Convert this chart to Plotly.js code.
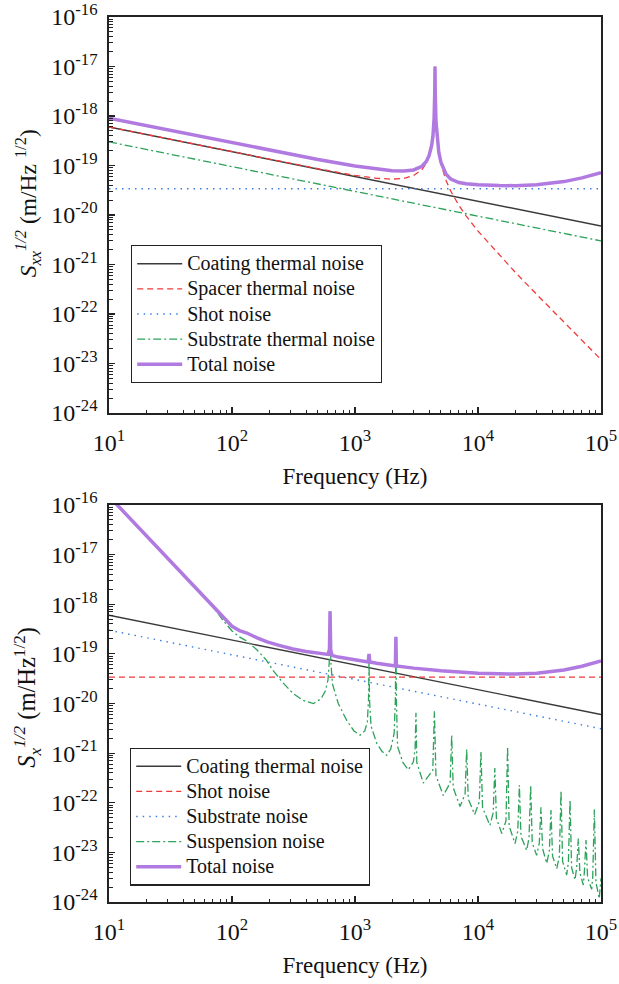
<!DOCTYPE html>
<html>
<head>
<meta charset="utf-8">
<script src="https://cdn.plot.ly/plotly-3.0.1.min.js"></script>
<style>
html,body{margin:0;padding:0;background:#fff;}
#chart{width:619px;height:984px;}
</style>
</head>
<body>
<div id="chart"></div>
<script>
// ---------- data ----------
const lineEnds = [10, 100000];

// Top panel
const coatingTop   = [6.0e-19, 6.0e-21];
const shotTop      = [3.4e-20, 3.4e-20];
const substrateTop = [3.0e-19, 3.0e-21];

const freqTop = [10, 20, 50, 100, 200, 500, 1000, 1500, 2000, 2500, 3000, 3500, 3800, 4000, 4200, 4300, 4400, 4450, 4470, 4490, 4550, 4650, 4800, 5000, 5500, 6000, 7000, 8000, 10000, 15000, 20000, 30000, 50000, 70000, 100000];
const spacerTop = [6.0e-19, 4.24e-19, 2.68e-19, 1.9e-19, 1.345e-19, 8.6e-20, 6.32e-20, 5.52e-20, 5.30e-20, 5.52e-20, 6.30e-20, 8.29e-20, 1.11e-19, 1.51e-19, 2.50e-19, 3.87e-19, 9.16e-19, 3.04e-18, 1.0e-17, 3.0e-18, 7.8e-19, 3.39e-19, 1.79e-19, 1.07e-19, 4.98e-20, 3.05e-20, 1.56e-20, 9.63e-21, 4.74e-21, 1.51e-21, 7.05e-22, 2.49e-22, 6.84e-23, 2.94e-23, 1.2e-23];
const totalTop = [9.0e-19, 6.37e-19, 4.04e-19, 2.87e-19, 2.04e-19, 1.325e-19, 9.82e-20, 8.49e-20, 7.88e-20, 7.75e-20, 8.14e-20, 9.65e-20, 1.21e-19, 1.58e-19, 2.54e-19, 3.9e-19, 9.17e-19, 3.04e-18, 1.0e-17, 3.0e-18, 7.81e-19, 3.42e-19, 1.85e-19, 1.16e-19, 6.68e-20, 5.34e-20, 4.54e-20, 4.28e-20, 4.08e-20, 3.93e-20, 3.92e-20, 4.08e-20, 4.73e-20, 5.63e-20, 7.19e-20];

// Bottom panel
const coatingBot   = [6.0e-19, 6.0e-21];
const shotBot      = [3.4e-20, 3.4e-20];
const substrateBot = [3.0e-19, 3.1e-21];

const freqSusp = [10, 20, 40, 60, 70, 85, 100, 115, 132, 160, 190, 215, 260, 313, 380, 460, 530, 575, 603, 618, 627, 636, 655, 731, 855, 980, 1100, 1200, 1260, 1288, 1300, 1312, 1350, 1500, 1650, 1810, 1950, 2080, 2130, 2150, 2170, 2220, 2450, 2710, 2980, 3080, 3130, 3180, 3590, 4290, 4420, 4550, 5220, 5930, 6110, 6290, 7140, 7850, 8090, 8330, 9400, 10250, 10570, 10890, 12500, 13290, 13700, 14110, 15600, 16880, 17400, 17920, 20000, 21050, 21700, 22350, 24900, 26000, 26800, 27600, 30000, 31525, 32500, 33475, 36200, 38020, 39200, 40380, 43700, 45880, 47300, 48720, 52600, 54320, 56000, 57680, 61500, 63440, 65400, 67360, 71800, 73240, 75500, 77770, 84000, 85650, 88300, 90950, 96800, 100000];
const suspBot = [1.5e-16, 2.4e-17, 3.9e-18, 1.35e-18, 8.9e-19, 4.65e-19, 2.9e-19, 2.2e-19, 1.8e-19, 1.2e-19, 7.5e-20, 4.7e-20, 2.6e-20, 1.6e-20, 1.15e-20, 1.0e-20, 1.25e-20, 1.8e-20, 3.0e-20, 7.0e-20, 7.2e-19, 7.0e-20, 2.5e-20, 1.0e-20, 4.6e-21, 2.8e-21, 2.3e-21, 2.8e-21, 4.2e-21, 1.2e-20, 7.3e-20, 1.2e-20, 3.5e-21, 1.6e-21, 1.1e-21, 9.0e-22, 1.2e-21, 2.5e-21, 1.2e-20, 2.1e-19, 1.2e-20, 1.35e-21, 6.5e-22, 4.6e-22, 6.6e-22, 1.2e-21, 6.5e-21, 6.5e-22, 2.5e-22, 4.5e-22, 7.0e-21, 3.5e-22, 1.4e-22, 2.5e-22, 2.3e-21, 2.0e-22, 8.4e-23, 1.5e-22, 1.2e-21, 1.2e-22, 5.8e-23, 1.05e-22, 1.07e-21, 8.0e-23, 3.5e-23, 6.3e-23, 5.0e-22, 4.9e-23, 2.4e-23, 4.3e-23, 1.35e-21, 3.4e-23, 1.5e-23, 2.7e-23, 2.26e-22, 2.1e-23, 1.1e-23, 2.0e-23, 2.26e-22, 1.55e-23, 8.7e-24, 1.57e-23, 8.1e-23, 1.2e-23, 6.0e-24, 1.08e-23, 7.1e-23, 8.4e-24, 4.7e-24, 8.5e-24, 1.74e-22, 6.6e-24, 3.5e-24, 6.3e-24, 1.13e-22, 4.9e-24, 2.8e-24, 5.0e-24, 1.9e-23, 3.9e-24, 2.2e-24, 4.0e-24, 1.77e-23, 3.1e-24, 1.8e-24, 3.2e-24, 7.3e-23, 2.5e-24, 1.17e-24, 3.0e-24];

const freqTotBot = [10, 20, 40, 60, 70, 85, 100, 115, 132, 160, 193, 250, 313, 400, 519, 603, 620, 627, 634, 650, 731, 1000, 1280, 1300, 1320, 1500, 2000, 2130, 2150, 2170, 3000, 5000, 10000, 15000, 20000, 30000, 50000, 70000, 100000];
const totalBot = [1.5e-16, 2.4e-17, 3.92e-18, 1.37e-18, 9.0e-19, 5.25e-19, 3.6e-19, 2.95e-19, 2.63e-19, 2.1e-19, 1.74e-19, 1.45e-19, 1.25e-19, 1.12e-19, 1.02e-19, 9.76e-20, 1.22e-19, 7.2e-19, 1.22e-19, 9.33e-20, 8.61e-20, 7.53e-20, 6.9e-20, 1.0e-19, 6.83e-20, 6.45e-20, 5.84e-20, 5.72e-20, 2.2e-19, 5.7e-20, 5.16e-20, 4.55e-20, 4.06e-20, 3.93e-20, 3.92e-20, 4.08e-20, 4.73e-20, 5.63e-20, 7.19e-20];

const xTickVals = [10, 100, 1000, 10000, 100000];
const xTickText = ['10<sup>1</sup>', '10<sup>2</sup>', '10<sup>3</sup>', '10<sup>4</sup>', '10<sup>5</sup>'];
const yTickVals = [1e-24, 1e-23, 1e-22, 1e-21, 1e-20, 1e-19, 1e-18, 1e-17, 1e-16];
const yTickText = ['10<sup>-24</sup>', '10<sup>-23</sup>', '10<sup>-22</sup>', '10<sup>-21</sup>', '10<sup>-20</sup>', '10<sup>-19</sup>', '10<sup>-18</sup>', '10<sup>-17</sup>', '10<sup>-16</sup>'];

const topNames = ['Coating thermal noise', 'Spacer thermal noise', 'Shot noise', 'Substrate thermal noise', 'Total noise'];
const botNames = ['Coating thermal noise', 'Shot noise', 'Substrate noise', 'Suspension noise', 'Total noise'];

// ---------- styles ----------
const SERIF = 'Liberation Serif, Times New Roman, serif';
const cBlack = '#3a3a3a', cRed = '#f03a3a', cBlue = '#3a7fe0', cGreen = '#2ca25a', cPurple = '#b07ae0';
const stCoat  = {color: cBlack, width: 1.4};
const stRed   = {color: cRed, width: 1.3, dash: '6px,4px'};
const stBlue  = {color: cBlue, width: 1.4, dash: '1.5px,5px'};
const stGreen = {color: cGreen, width: 1.3, dash: '8px,3px,2px,3px'};
const stTotal = {color: cPurple, width: 3.5};

function legName(s) { return '<span style="font-size:20px">' + s + '</span>'; }

function tr(x, y, name, line, top) {
  return {x: x, y: y, name: legName(name), mode: 'lines', line: line,
    xaxis: top ? 'x' : 'x2', yaxis: top ? 'y' : 'y2',
    legend: top ? 'legend' : 'legend2', hoverinfo: 'skip'};
}

const data = [
  tr(lineEnds, coatingTop, topNames[0], stCoat, true),
  tr(freqTop, spacerTop, topNames[1], stRed, true),
  tr(lineEnds, shotTop, topNames[2], stBlue, true),
  tr(lineEnds, substrateTop, topNames[3], stGreen, true),
  tr(freqTop, totalTop, topNames[4], stTotal, true),
  tr(lineEnds, coatingBot, botNames[0], stCoat, false),
  tr(lineEnds, shotBot, botNames[1], stRed, false),
  tr(lineEnds, substrateBot, botNames[2], stBlue, false),
  tr(freqSusp, suspBot, botNames[3], stGreen, false),
  tr(freqTotBot, totalBot, botNames[4], stTotal, false)
];

function xAx(anchor) {
  return {type: 'log', range: [1, 5], anchor: anchor,
    showline: true, linecolor: '#222', linewidth: 1.6, mirror: true,
    ticks: 'inside', ticklen: 6, tickwidth: 1.2, tickcolor: '#222',
    tickmode: 'array', tickvals: xTickVals, ticktext: xTickText,
    tickfont: {family: SERIF, size: 24, color: '#111'}, ticklabelstandoff: 8,
    minor: {ticks: 'inside', ticklen: 3.5, tickwidth: 1, tickcolor: '#222', tickmode: 'linear', dtick: 'D1', showgrid: false},
    showgrid: false, zeroline: false,
    title: {text: 'Frequency (Hz)', font: {family: SERIF, size: 23, color: '#111'}, standoff: 12}};
}
function yAx(anchor, domain, title, tsize) {
  return {type: 'log', range: [-24, -16], anchor: anchor, domain: domain,
    showline: true, linecolor: '#222', linewidth: 1.6, mirror: true,
    ticks: 'inside', ticklen: 6, tickwidth: 1.2, tickcolor: '#222',
    tickmode: 'array', tickvals: yTickVals, ticktext: yTickText,
    tickfont: {family: SERIF, size: 24, color: '#111'}, ticklabelstandoff: 5,
    minor: {ticks: 'inside', ticklen: 3.5, tickwidth: 1, tickcolor: '#222', tickmode: 'linear', dtick: 'D1', showgrid: false},
    showgrid: false, zeroline: false,
    title: {text: title, font: {family: SERIF, size: tsize, color: '#111'}, standoff: 8}};
}

const legCommon = {xref: 'paper', yref: 'paper', xanchor: 'left', yanchor: 'top',
  bgcolor: 'rgba(255,255,255,1)', bordercolor: '#222', borderwidth: 1.2,
  font: {family: SERIF, size: 17.0, color: '#111'}, itemwidth: 45, tracegroupgap: 0};

const layout = {
  width: 619, height: 984,
  margin: {l: 109, r: 18, t: 17, b: 82},
  paper_bgcolor: '#fff', plot_bgcolor: '#fff',
  font: {family: SERIF, color: '#111'},
  showlegend: true,
  xaxis: xAx('y'),
  yaxis: yAx('x', [0.5525, 1], '&nbsp;&nbsp;&nbsp;&nbsp;<i>S</i><sub><i>xx</i></sub><sup><i>1/2</i></sup> (m/Hz <sup>1/2</sup>)', 23.5),
  xaxis2: xAx('y2'),
  yaxis2: yAx('x2', [0, 0.4486], '&nbsp;&nbsp;<i>S</i><sub><i>x</i></sub><sup><i>1/2</i></sup> (m/Hz<sup>1/2</sup>)', 24.5),
  legend: Object.assign({}, legCommon, {x: 0.0447, y: 0.7424}),
  legend2: Object.assign({}, legCommon, {x: 0.0427, y: 0.1745})
};

Plotly.newPlot('chart', data, layout, {staticPlot: true, displayModeBar: false});
</script>
</body>
</html>
